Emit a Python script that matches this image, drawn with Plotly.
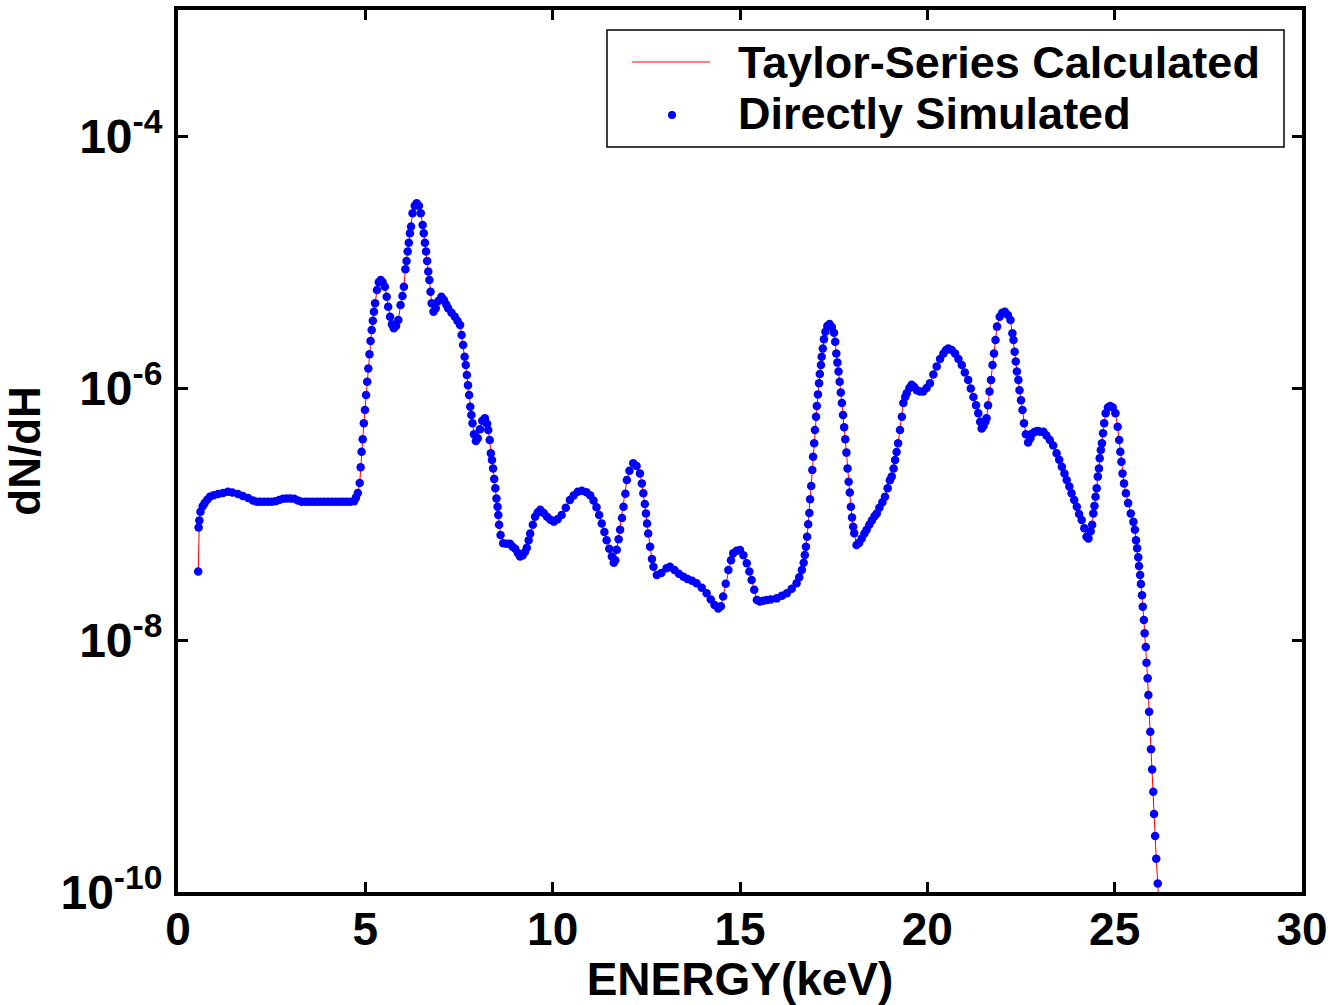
import plotly.graph_objects as go

# ---- data ----
energy = [
    0.54, 0.55, 0.57, 0.60, 0.66, 0.71, 0.78, 0.85, 0.95, 1.07, 1.20, 1.33, 1.45, 1.60, 1.73, 1.87,
    2.00, 2.10, 2.20, 2.30, 2.40, 2.50, 2.60, 2.70, 2.80, 2.90, 3.00, 3.10, 3.20, 3.30, 3.40, 3.50,
    3.60, 3.70, 3.80, 3.90, 4.00, 4.10, 4.20, 4.30, 4.40, 4.50, 4.60, 4.70, 4.75, 4.80, 4.85, 4.875,
    4.90, 4.93, 4.96, 4.99, 5.02, 5.05, 5.08, 5.11, 5.14, 5.17, 5.20, 5.23, 5.26, 5.31, 5.36, 5.41,
    5.46, 5.52, 5.57, 5.61, 5.66, 5.71, 5.76, 5.82, 5.88, 5.94, 5.99, 6.03, 6.07, 6.10, 6.13, 6.16,
    6.19, 6.22, 6.26, 6.32, 6.37, 6.43, 6.48, 6.53, 6.56, 6.59, 6.62, 6.65, 6.68, 6.71, 6.74, 6.77,
    6.82, 6.88, 6.95, 7.03, 7.10, 7.16, 7.21, 7.30, 7.39, 7.46, 7.53, 7.57, 7.61, 7.65, 7.68, 7.71,
    7.74, 7.77, 7.80, 7.83, 7.86, 7.90, 7.95, 8.00, 8.06, 8.12, 8.19, 8.25, 8.28, 8.32, 8.35, 8.38,
    8.41, 8.44, 8.47, 8.50, 8.53, 8.55, 8.57, 8.61, 8.68, 8.77, 8.86, 8.93, 9.00, 9.07, 9.13, 9.20,
    9.26, 9.31, 9.36, 9.40, 9.47, 9.53, 9.60, 9.67, 9.76, 9.85, 9.94, 10.03, 10.13, 10.24, 10.35, 10.46,
    10.56, 10.67, 10.78, 10.90, 11.00, 11.09, 11.17, 11.24, 11.31, 11.38, 11.44, 11.51, 11.58, 11.63, 11.67, 11.71,
    11.76, 11.80, 11.85, 11.89, 11.94, 11.98, 12.05, 12.15, 12.24, 12.33, 12.38, 12.42, 12.46, 12.49, 12.52, 12.55,
    12.60, 12.65, 12.69, 12.78, 12.90, 13.04, 13.13, 13.25, 13.37, 13.49, 13.60, 13.72, 13.84, 13.98, 14.11, 14.22,
    14.32, 14.42, 14.49, 14.55, 14.62, 14.69, 14.76, 14.82, 14.91, 15.00, 15.09, 15.18, 15.25, 15.31, 15.38, 15.45,
    15.53, 15.62, 15.72, 15.82, 15.98, 16.12, 16.25, 16.38, 16.51, 16.58, 16.65, 16.70, 16.73, 16.76, 16.79, 16.82,
    16.85, 16.87, 16.90, 16.93, 16.95, 16.98, 17.00, 17.03, 17.05, 17.08, 17.11, 17.13, 17.16, 17.18, 17.21, 17.24,
    17.28, 17.33, 17.39, 17.45, 17.51, 17.54, 17.57, 17.60, 17.63, 17.66, 17.69, 17.72, 17.75, 17.78, 17.81, 17.84,
    17.87, 17.90, 17.93, 17.96, 17.99, 18.02, 18.05, 18.11, 18.18, 18.25, 18.32, 18.38, 18.45, 18.52, 18.59, 18.65,
    18.72, 18.80, 18.87, 18.94, 19.00, 19.05, 19.10, 19.14, 19.18, 19.22, 19.27, 19.32, 19.36, 19.41, 19.45, 19.52,
    19.58, 19.65, 19.72, 19.80, 19.89, 19.98, 20.07, 20.16, 20.25, 20.34, 20.43, 20.50, 20.56, 20.65, 20.74, 20.83,
    20.92, 21.00, 21.09, 21.16, 21.23, 21.30, 21.36, 21.41, 21.45, 21.50, 21.55, 21.58, 21.62, 21.66, 21.70, 21.74,
    21.78, 21.82, 21.86, 21.93, 22.00, 22.07, 22.15, 22.22, 22.27, 22.30, 22.33, 22.36, 22.39, 22.43, 22.46, 22.50,
    22.54, 22.58, 22.63, 22.69, 22.75, 22.80, 22.87, 22.94, 23.01, 23.10, 23.18, 23.27, 23.36, 23.45, 23.52, 23.59,
    23.66, 23.72, 23.79, 23.85, 23.92, 23.99, 24.05, 24.12, 24.19, 24.25, 24.30, 24.36, 24.40, 24.43, 24.46, 24.49,
    24.52, 24.55, 24.58, 24.60, 24.63, 24.66, 24.69, 24.72, 24.76, 24.82, 24.88, 24.95, 25.02, 25.08, 25.12, 25.15,
    25.18, 25.21, 25.25, 25.30, 25.36, 25.43, 25.50, 25.54, 25.57, 25.60, 25.63, 25.65, 25.68, 25.70, 25.73, 25.75,
    25.78, 25.80, 25.83, 25.85, 25.88, 25.90, 25.92, 25.95, 25.97, 26.00, 26.03, 26.05, 26.08, 26.11, 26.15,
]

dndh = [
    3.5e-8, 7.8e-8, 8.9e-8, 1.04e-7, 1.15e-7, 1.22e-7, 1.30e-7, 1.37e-7, 1.41e-7, 1.44e-7, 1.47e-7, 1.50e-7, 1.48e-7, 1.44e-7, 1.39e-7, 1.34e-7,
    1.28e-7, 1.25e-7, 1.25e-7, 1.25e-7, 1.25e-7, 1.25e-7, 1.26e-7, 1.29e-7, 1.32e-7, 1.33e-7, 1.33e-7, 1.32e-7, 1.28e-7, 1.25e-7, 1.25e-7, 1.25e-7,
    1.25e-7, 1.25e-7, 1.25e-7, 1.25e-7, 1.25e-7, 1.25e-7, 1.25e-7, 1.25e-7, 1.25e-7, 1.25e-7, 1.25e-7, 1.26e-7, 1.35e-7, 1.47e-7, 1.76e-7, 2.35e-7,
    3.12e-7, 3.92e-7, 5.25e-7, 6.7e-7, 8.8e-7, 1.12e-6, 1.43e-6, 1.85e-6, 2.36e-6, 2.89e-6, 3.42e-6, 4.03e-6, 4.70e-6, 6.0e-6, 6.9e-6, 7.2e-6,
    6.9e-6, 6.36e-6, 5.31e-6, 4.42e-6, 3.68e-6, 3.2e-6, 2.98e-6, 3.1e-6, 3.46e-6, 4.55e-6, 5.37e-6, 6.36e-6, 8.76e-6, 1.02e-5, 1.21e-5, 1.42e-5,
    1.69e-5, 1.91e-5, 2.44e-5, 2.8e-5, 2.92e-5, 2.8e-5, 2.44e-5, 1.97e-5, 1.69e-5, 1.42e-5, 1.21e-5, 1.02e-5, 8.4e-6, 7.2e-6, 5.8e-6, 4.7e-6,
    4.03e-6, 4.3e-6, 4.9e-6, 5.31e-6, 5.0e-6, 4.6e-6, 4.29e-6, 3.95e-6, 3.68e-6, 3.4e-6, 3.16e-6, 2.63e-6, 2.19e-6, 1.77e-6, 1.52e-6, 1.27e-6,
    1.05e-6, 8.8e-7, 7.1e-7, 6.1e-7, 5.25e-7, 4.3e-7, 3.8e-7, 4.0e-7, 4.7e-7, 5.5e-7, 5.76e-7, 5.2e-7, 4.64e-7, 3.87e-7, 3.03e-7, 2.68e-7,
    2.30e-7, 1.9e-7, 1.60e-7, 1.33e-7, 1.14e-7, 9.8e-8, 8.2e-8, 6.8e-8, 5.85e-8, 5.8e-8, 5.8e-8, 5.5e-8, 5.3e-8, 4.9e-8, 4.6e-8, 4.7e-8,
    5.0e-8, 5.4e-8, 6.2e-8, 7.0e-8, 8.2e-8, 9.5e-8, 1.03e-7, 1.08e-7, 1.02e-7, 9.5e-8, 9.0e-8, 8.7e-8, 9.1e-8, 9.8e-8, 1.12e-7, 1.29e-7,
    1.40e-7, 1.50e-7, 1.53e-7, 1.49e-7, 1.41e-7, 1.28e-7, 1.13e-7, 9.8e-8, 8.4e-8, 7.2e-8, 6.2e-8, 5.3e-8, 4.6e-8, 4.1e-8, 4.3e-8, 5.2e-8,
    6.3e-8, 7.5e-8, 9.3e-8, 1.14e-7, 1.45e-7, 1.86e-7, 2.2e-7, 2.53e-7, 2.4e-7, 2.1e-7, 1.75e-7, 1.46e-7, 1.2e-7, 1.01e-7, 8.4e-8, 7.0e-8,
    5.5e-8, 4.4e-8, 3.82e-8, 3.28e-8, 3.4e-8, 3.71e-8, 3.82e-8, 3.6e-8, 3.35e-8, 3.18e-8, 3.05e-8, 2.95e-8, 2.82e-8, 2.6e-8, 2.35e-8, 2.1e-8,
    1.9e-8, 1.78e-8, 1.85e-8, 2.21e-8, 2.8e-8, 3.6e-8, 4.3e-8, 4.88e-8, 5.1e-8, 5.18e-8, 4.7e-8, 4.06e-8, 3.5e-8, 2.99e-8, 2.5e-8, 2.08e-8,
    2.02e-8, 2.05e-8, 2.08e-8, 2.1e-8, 2.14e-8, 2.25e-8, 2.35e-8, 2.55e-8, 2.82e-8, 3.15e-8, 3.6e-8, 4.1e-8, 4.72e-8, 5.5e-8, 6.6e-8, 8.3e-8,
    1.02e-7, 1.31e-7, 1.67e-7, 2.23e-7, 2.85e-7, 3.64e-7, 4.64e-7, 5.92e-7, 7.2e-7, 8.9e-7, 1.09e-6, 1.29e-6, 1.52e-6, 1.77e-6, 2.06e-6, 2.44e-6,
    2.80e-6, 3.1e-6, 3.22e-6, 3.05e-6, 2.75e-6, 2.33e-6, 1.88e-6, 1.59e-6, 1.35e-6, 1.12e-6, 9.2e-7, 7.6e-7, 6.1e-7, 4.88e-7, 3.92e-7, 3.07e-7,
    2.30e-7, 1.80e-7, 1.48e-7, 1.14e-7, 9.4e-8, 7.93e-8, 7.03e-8, 5.68e-8, 5.9e-8, 6.4e-8, 7.0e-8, 7.5e-8, 8.2e-8, 8.9e-8, 9.6e-8, 1.01e-7,
    1.12e-7, 1.24e-7, 1.37e-7, 1.6e-7, 1.85e-7, 1.98e-7, 2.3e-7, 2.68e-7, 3.1e-7, 3.64e-7, 4.64e-7, 5.92e-7, 7.6e-7, 8.5e-7, 9.1e-7, 1.0e-6,
    1.06e-6, 1.02e-6, 9.6e-7, 9.4e-7, 9.4e-7, 1.0e-6, 1.09e-6, 1.28e-6, 1.48e-6, 1.7e-6, 1.88e-6, 2.0e-6, 2.06e-6, 2.0e-6, 1.88e-6, 1.7e-6,
    1.52e-6, 1.33e-6, 1.16e-6, 9.9e-7, 8.5e-7, 7.3e-7, 6.3e-7, 5.4e-7, 4.78e-7, 5.0e-7, 5.4e-7, 5.76e-7, 7.3e-7, 9.4e-7, 1.16e-6, 1.52e-6,
    1.88e-6, 2.40e-6, 3.07e-6, 3.68e-6, 3.95e-6, 4.03e-6, 3.8e-6, 3.46e-6, 2.72e-6, 2.40e-6, 1.94e-6, 1.62e-6, 1.35e-6, 1.16e-6, 9.6e-7, 8.0e-7,
    6.7e-7, 5.25e-7, 4.3e-7, 3.7e-7, 4.0e-7, 4.35e-7, 4.5e-7, 4.55e-7, 4.5e-7, 4.5e-7, 4.2e-7, 3.87e-7, 3.5e-7, 3.03e-7, 2.7e-7, 2.37e-7,
    2.1e-7, 1.86e-7, 1.65e-7, 1.46e-7, 1.29e-7, 1.14e-7, 1.0e-7, 8.95e-8, 7.7e-8, 6.6e-8, 6.4e-8, 7.3e-8, 8.2e-8, 1.01e-7, 1.16e-7, 1.37e-7,
    1.60e-7, 1.98e-7, 2.30e-7, 2.77e-7, 3.22e-7, 3.64e-7, 4.37e-7, 5.25e-7, 6.3e-7, 7.0e-7, 7.2e-7, 7.0e-7, 6.3e-7, 4.93e-7, 3.87e-7, 3.12e-7,
    2.60e-7, 2.10e-7, 1.75e-7, 1.46e-7, 1.22e-7, 1.01e-7, 8.66e-8, 7.5e-8, 6.2e-8, 5.34e-8, 4.53e-8, 3.87e-8, 3.28e-8, 2.78e-8, 2.27e-8, 1.84e-8,
    1.44e-8, 1.13e-8, 8.8e-9, 6.6e-9, 4.96e-9, 3.66e-9, 2.70e-9, 1.87e-9, 1.36e-9, 9.4e-10, 6.25e-10, 4.16e-10, 2.78e-10, 1.84e-10, 1.17e-10,
]

# Taylor-series curve follows the same points and continues just past the last simulated one
taylor_tail_energy = [26.19]
taylor_tail_dndh = [7.0e-11]

x_ticks = [0, 5, 10, 15, 20, 25, 30]
y_tickvals = [1e-10, 1e-8, 1e-6, 1e-4]
y_ticktext = ["10<sup>-10</sup>", "10<sup>-8</sup>", "10<sup>-6</sup>", "10<sup>-4</sup>"]

legend_labels = ["Taylor-Series Calculated", "Directly Simulated"]

FONT = "Liberation Sans, Arial, Helvetica, sans-serif"

fig = go.Figure()
fig.add_trace(go.Scatter(
    x=energy + taylor_tail_energy, y=dndh + taylor_tail_dndh,
    mode="lines", name=legend_labels[0], showlegend=False,
    line=dict(color="#ff0000", width=1),
))
fig.add_trace(go.Scatter(
    x=energy, y=dndh, mode="markers", name=legend_labels[1], showlegend=False,
    marker=dict(color="#0000ff", size=8.5, line=dict(width=0)),
))

axis_common = dict(
    showline=True, linecolor="black", linewidth=4, mirror="ticks",
    ticks="inside", ticklen=10, tickwidth=3, tickcolor="black",
    showgrid=False, zeroline=False, automargin=False,
)

# ---- legend drawn in paper coordinates (box, line sample, dot sample, labels) ----
L, R, T, B = 178, 1302, 10, 892
W, H = R - L, B - T
def px(xp):
    return (xp - L) / W
def py(yp):
    return (B - yp) / H

shapes = [
    dict(type="rect", xref="paper", yref="paper", x0=px(607), x1=px(1284), y0=py(147), y1=py(30),
         line=dict(color="black", width=1.5), fillcolor="white", layer="above"),
    dict(type="line", xref="paper", yref="paper", x0=px(632), x1=px(710), y0=py(62), y1=py(62),
         line=dict(color="#ff0000", width=1), layer="above"),
    dict(type="circle", xref="paper", yref="paper", x0=px(668), x1=px(676), y0=py(119), y1=py(111),
         line=dict(width=0), fillcolor="#0000ff", layer="above"),
]
annotations = [
    dict(text=legend_labels[0], xref="paper", yref="paper", x=px(736), y=py(62),
         xanchor="left", yanchor="middle", showarrow=False,
         font=dict(family=FONT, size=45, weight="bold", color="black")),
    dict(text=legend_labels[1], xref="paper", yref="paper", x=px(736), y=py(114),
         xanchor="left", yanchor="middle", showarrow=False,
         font=dict(family=FONT, size=45, weight="bold", color="black")),
]

fig.update_layout(
    width=1332, height=1005,
    margin=dict(l=L, r=1332 - R, t=T, b=1005 - B, autoexpand=False),
    paper_bgcolor="white", plot_bgcolor="white",
    font=dict(family=FONT, color="black"),
    showlegend=False,
    shapes=shapes, annotations=annotations,
    xaxis=dict(
        range=[0, 30], tickvals=x_ticks,
        tickfont=dict(family=FONT, size=46, weight="bold"),
        ticklabelstandoff=-6,
        title=dict(text="ENERGY(keV)", font=dict(family=FONT, size=46, weight="bold"), standoff=10),
        **axis_common,
    ),
    yaxis=dict(
        type="log", range=[-10, -3],
        tickvals=y_tickvals, ticktext=y_ticktext,
        tickfont=dict(family=FONT, size=48, weight="bold"),
        ticklabelstandoff=2,
        title=dict(text="dN/dH", font=dict(family=FONT, size=44, weight="bold"), standoff=24),
        **axis_common,
    ),
)

fig.write_html("out.html")
